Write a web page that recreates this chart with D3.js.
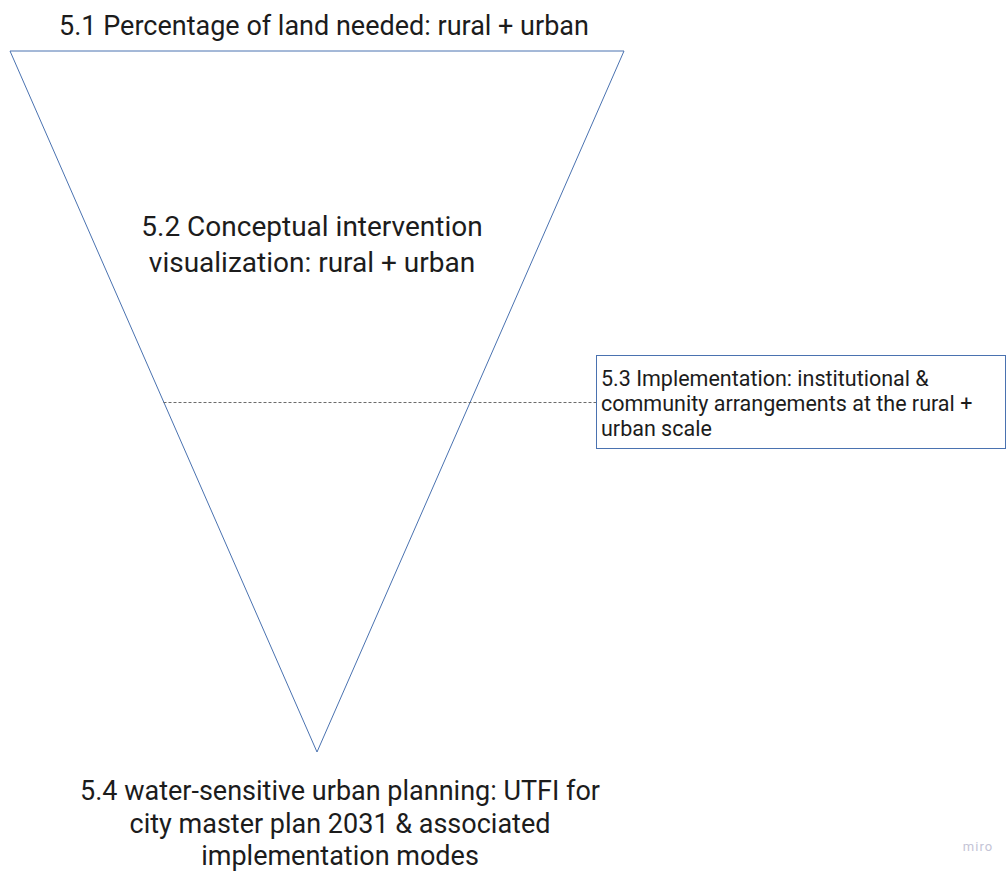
<!DOCTYPE html>
<html>
<head>
<meta charset="utf-8">
<script src="https://cdn.jsdelivr.net/npm/d3@7"></script>
<style>
  body { margin: 0; background: #fff; }
  text { font-family: Roboto, "Noto Sans", sans-serif; fill: #1c1c1c; }
</style>
</head>
<body>
<div id="chart"></div>
<script>
(function () {

  // the funnel stages, depth is 0 (top) to 1 (tip)
  const stageTop = ["5.1 Percentage of land needed: rural + urban"]
  const stageMiddle = ["5.2 Conceptual intervention", "visualization: rural + urban"]
  const stageSide = ["5.3 Implementation: institutional &", "community arrangements at the rural +", "urban scale"]
  const stageBottom = ["5.4 water-sensitive urban planning: UTFI for", "city master plan 2031 & associated", "implementation modes"]
  const funnelDepths = [0, 1]
  const implementationDepth = 0.5

  const width = 1006
  const height = 871

  const svg = d3.select("#chart").append("svg")
      .attr("width", width)
      .attr("height", height)

  // depth down the funnel -> pixels
  const yPositionScale = d3.scaleLinear()
    .domain([0, 1])
    .range([51, 752])

  // half-width of the funnel at a given depth
  const halfWidthScale = d3.scaleLinear()
    .domain([0, 1])
    .range([307, 0])

  const centerX = 317

  const points = [
    [centerX - halfWidthScale(funnelDepths[0]), yPositionScale(funnelDepths[0])],
    [centerX + halfWidthScale(funnelDepths[0]), yPositionScale(funnelDepths[0])],
    [centerX, yPositionScale(funnelDepths[1])]
  ]

  svg.append("path")
    .attr("d", d3.line()(points) + "Z")
    .attr("fill", "none")
    .attr("stroke", "#4a72b0")
    .attr("stroke-width", 1)

  // dashed connector to the side box
  const yImpl = Math.round(yPositionScale(implementationDepth)) + 0.5
  svg.append("line")
    .attr("x1", centerX - halfWidthScale(implementationDepth))
    .attr("x2", 596)
    .attr("y1", yImpl)
    .attr("y2", yImpl)
    .attr("stroke", "#6b6b6b")
    .attr("stroke-width", 1)
    .attr("stroke-dasharray", "3,2")

  svg.append("rect")
    .attr("x", 596.5)
    .attr("y", 355.5)
    .attr("width", 409)
    .attr("height", 93)
    .attr("fill", "#fff")
    .attr("stroke", "#4a72b0")
    .attr("stroke-width", 1)

  function block (lines, x, y0, lineHeight, size, anchor) {
    svg.append("g")
      .selectAll("text")
      .data(lines)
      .join("text")
      .attr("x", x)
      .attr("y", (d, i) => y0 + i * lineHeight)
      .attr("text-anchor", anchor)
      .attr("font-size", size)
      .text(d => d)
  }

  block(stageTop, 324, 35, 32, 27, "middle")
  block(stageMiddle, 312, 236, 36, 28, "middle")
  block(stageSide, 601, 386, 25, 21.5, "start")
  block(stageBottom, 340, 800, 32.5, 27, "middle")

  svg.append("text")
    .attr("x", 978)
    .attr("y", 851)
    .attr("text-anchor", "middle")
    .attr("font-size", 13)
    .style("fill", "#c4c4d6")
    .style("letter-spacing", "1px")
    .text("miro")

})();
</script>
</body>
</html>
